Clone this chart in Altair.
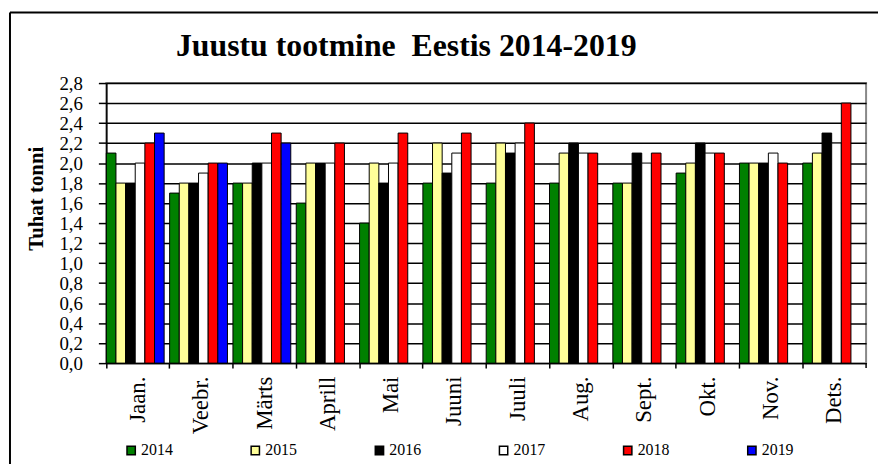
import altair as alt
import pandas as pd

months = ["Jaan.", "Veebr.", "Märts", "Aprill", "Mai", "Juuni",
          "Juuli", "Aug.", "Sept.", "Okt.", "Nov.", "Dets."]
years = ["2014", "2015", "2016", "2017", "2018", "2019"]
colors = ["#008000", "#FFFF99", "#000000", "#FFFFFF", "#FF0000", "#0000FF"]
title_text = ["Juustu tootmine\u00a0 Eestis 2014-2019"]

y2014 = [2.1, 1.7, 1.8, 1.6, 1.4, 1.8, 1.8, 1.8, 1.8, 1.9, 2.0, 2.0]
y2015 = [1.8, 1.8, 1.8, 2.0, 2.0, 2.2, 2.2, 2.1, 1.8, 2.0, 2.0, 2.1]
y2016 = [1.8, 1.8, 2.0, 2.0, 1.8, 1.9, 2.1, 2.2, 2.1, 2.2, 2.0, 2.3]
y2017 = [2.0, 1.9, 2.0, 2.0, 2.0, 2.1, 2.2, 2.1, 2.0, 2.1, 2.1, 2.2]
y2018 = [2.2, 2.0, 2.3, 2.2, 2.3, 2.3, 2.4, 2.1, 2.1, 2.1, 2.0, 2.6]
y2019 = [2.3, 2.0, 2.2, None, None, None, None, None, None, None, None, None]

series = [y2014, y2015, y2016, y2017, y2018, y2019]
rows = []
for yr, vals in zip(years, series):
    for m, v in zip(months, vals):
        if v is not None:
            rows.append({"month": m, "year": yr, "value": v})
df = pd.DataFrame(rows)

FONT = "Liberation Serif"
W, H = 765, 282

bars = alt.Chart(df).mark_bar(stroke="black", strokeWidth=1).encode(
    x=alt.X("month:N", sort=months,
            scale=alt.Scale(paddingInner=0, paddingOuter=0),
            axis=alt.Axis(title=None, labelAngle=270, labelAlign="right",
                          labelBaseline="middle", labelFont=FONT, labelFontSize=23,
                          labelColor="black", labelPadding=8, bandPosition=0,
                          labelOverlap=False,
                          tickSize=5, tickColor="black", tickWidth=1.5,
                          domainColor="black", domainWidth=1.5, grid=False)),
    xOffset=alt.XOffset("year:N",
                        scale=alt.Scale(domain=years, paddingInner=0,
                                        paddingOuter=0.285, align=0)),
    y=alt.Y("value:Q",
            scale=alt.Scale(domain=[0, 2.8], nice=False),
            axis=alt.Axis(title="Tuhat tonni", values=[i / 10 for i in range(0, 29, 2)],
                          labelExpr="replace(format(datum.value, '.1f'), '.', ',')",
                          labelFont=FONT, labelFontSize=19, labelColor="black",
                          labelOverlap=False, labelBound=False,
                          labelPadding=16, tickSize=8, tickColor="black", tickWidth=1.5,
                          domainColor="black", domainWidth=1.5,
                          grid=True, gridColor="black", gridWidth=1.5,
                          titleFont=FONT, titleFontSize=21, titleFontWeight="bold",
                          titleColor="black", titleAngle=270, titleAlign="center",
                          titleBaseline="middle", titleX=-70, titleY=116)),
    color=alt.Color("year:N",
                    scale=alt.Scale(domain=years, range=colors),
                    legend=alt.Legend(title=None, orient="none", direction="horizontal",
                                      columns=6, legendX=17, legendY=362,
                                      symbolType="square", symbolSize=70,
                                      symbolStrokeColor="black", symbolStrokeWidth=1.5,
                                      symbolOpacity=1,
                                      labelFont=FONT, labelFontSize=16, labelColor="black",
                                      labelOffset=2, columnPadding=75, padding=0)),
)

one = pd.DataFrame({"a": [0]})
title = alt.Chart(pd.DataFrame({"t": title_text})).mark_text(
    font=FONT, fontSize=32, fontWeight="bold", color="black",
    align="center", baseline="alphabetic").encode(
    text="t:N", x=alt.value(302), y=alt.value(-27))
frame_left = alt.Chart(one).mark_rule(color="black", strokeWidth=2).encode(
    x=alt.value(-97), y=alt.value(-71), y2=alt.value(600))
frame_top = alt.Chart(one).mark_rule(color="black", strokeWidth=2).encode(
    x=alt.value(-97), x2=alt.value(1000), y=alt.value(-71))
end_tick = alt.Chart(one).mark_rule(color="black", strokeWidth=1.5).encode(
    x=alt.value(W), y=alt.value(H), y2=alt.value(H + 5))

chart = alt.layer(bars, title, frame_left, frame_top, end_tick).properties(
    width=W, height=H,
    background="white",
    autosize=alt.AutoSizeParams(type="none"),
    padding={"left": 99, "top": 74, "right": 12, "bottom": 100},
).configure_view(stroke="#888888", strokeWidth=2)

chart.save("out.html", embed_options={"renderer": "svg", "actions": False})
